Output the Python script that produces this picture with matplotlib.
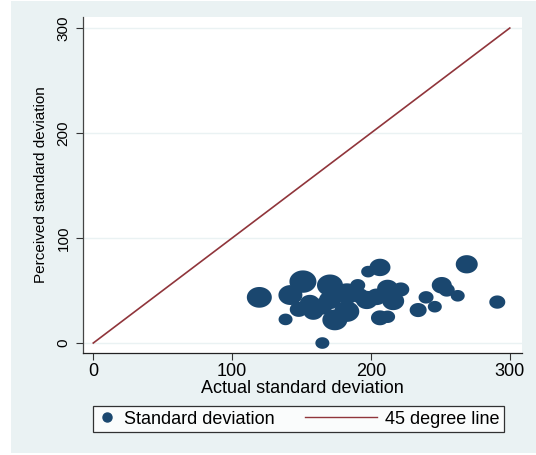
import numpy as np
import matplotlib
matplotlib.use("Agg")
import matplotlib.pyplot as plt
from matplotlib.path import Path
from matplotlib.patches import Rectangle
from matplotlib.lines import Line2D
from matplotlib.legend_handler import HandlerLine2D

# ---- data ----
actual_sd = [119.6, 269, 291, 165, 206.5, 198, 251, 254.6, 262.5, 239.7, 246, 234,
             138.5, 151, 142, 170.5, 174, 190.5, 212, 221.5, 216, 206.5, 212,
             182.6, 158.5, 148, 170.5, 182.7, 197, 204, 156, 192, 165]
perceived_sd = [43.5, 75, 39, 0, 72, 68, 55, 50.5, 45, 43.5, 34.6, 31.4,
                22.5, 58.5, 45.7, 55, 22, 55, 52, 51, 40, 24, 25,
                30, 30, 32, 41, 47, 41, 44, 38, 45, 35]
weights = [25, 22, 16, 14, 21, 14, 20, 16, 14, 15, 14, 17,
           14, 27, 24, 26, 25, 15, 21, 17, 22, 18, 15,
           25, 20, 18, 22, 25, 22, 20, 20, 18, 20]
line_x = [0, 300]
line_y = [0, 300]
ticks = [0, 100, 200, 300]
xlabel = "Actual standard deviation"
ylabel = "Perceived standard deviation"
legend_labels = ["Standard deviation", "45 degree line"]

NAVY = "#1A476F"
MAROON = "#90353B"
BG = "#EAF2F3"
FS_H = 13      # horizontal text
FS_V = 11      # rotated text

plt.rcParams['font.family'] = ['Liberation Sans', 'DejaVu Sans']

W, H = 536, 455
fig = plt.figure(figsize=(W / 100, H / 100), dpi=100, facecolor="white")
fig.patches.append(Rectangle((11 / W, 2 / H), (W - 11) / W, (H - 3) / H,
                             transform=fig.transFigure, facecolor=BG,
                             edgecolor="none", zorder=-10))

ax = fig.add_axes([83 / W, 1 - 353 / H, (522 - 83) / W, (353 - 17) / H])
ax.set_facecolor("white")

# ellipse marker (image slightly stretched horizontally)
t = np.linspace(0, 2 * np.pi, 64)
ell = Path(np.column_stack([np.cos(t), 0.83 * np.sin(t)]), closed=True)
sizes = [(w * 0.72) ** 2 for w in weights]
ax.scatter(actual_sd, perceived_sd, s=sizes, marker=ell, color=NAVY,
           edgecolors="none", zorder=3)
ax.plot(line_x, line_y, color=MAROON, lw=1.2, zorder=2)

ax.set_xlim(-7.4, 308.8)
ax.set_ylim(-9.5, 310.5)
ax.set_xticks(ticks)
ax.set_yticks(ticks)
ax.set_xticklabels([str(v) for v in ticks], fontsize=FS_H)
ax.set_yticklabels([str(v) for v in ticks], fontsize=FS_V, rotation=90, va="center")
ax.tick_params(direction="out", length=5, width=0.8, color="#333333", pad=2)
ax.tick_params(axis="y", pad=4)
ax.yaxis.grid(True, color=BG, lw=1.0, zorder=0)
ax.set_axisbelow(True)
for s in ["top", "right"]:
    ax.spines[s].set_visible(False)
ax.spines["left"].set_color("#444444")
ax.spines["bottom"].set_color("#222222")
ax.spines["left"].set_linewidth(0.9)
ax.spines["bottom"].set_linewidth(0.9)

ax.set_xlabel(xlabel, fontsize=FS_H, labelpad=0)
ax.set_ylabel(ylabel, fontsize=FS_V, labelpad=6)


class LongLine(HandlerLine2D):
    def create_artists(self, legend, orig_handle, xdescent, ydescent, width,
                       height, fontsize, trans):
        extra = 3.0 * fontsize
        return super().create_artists(legend, orig_handle, xdescent + extra,
                                      ydescent, width + extra, height,
                                      fontsize, trans)


h_pt = Line2D([], [], ls="none", marker="o", markersize=6.5, color=NAVY)
h_ln = Line2D([], [], color=MAROON, lw=1.0)
leg = fig.legend([h_pt, h_ln], legend_labels, loc="center left",
                 bbox_to_anchor=(93 / W, 1 - 419 / H), ncol=2,
                 fontsize=FS_H, frameon=True, fancybox=False,
                 handlelength=1.0, handletextpad=0.45, columnspacing=4.7,
                 borderpad=0.25, borderaxespad=0, numpoints=1,
                 handler_map={h_ln: LongLine()})
leg.get_frame().set_edgecolor("black")
leg.get_frame().set_linewidth(0.9)
leg.get_frame().set_facecolor("white")

fig.savefig("out.png", dpi=100, facecolor="white")
